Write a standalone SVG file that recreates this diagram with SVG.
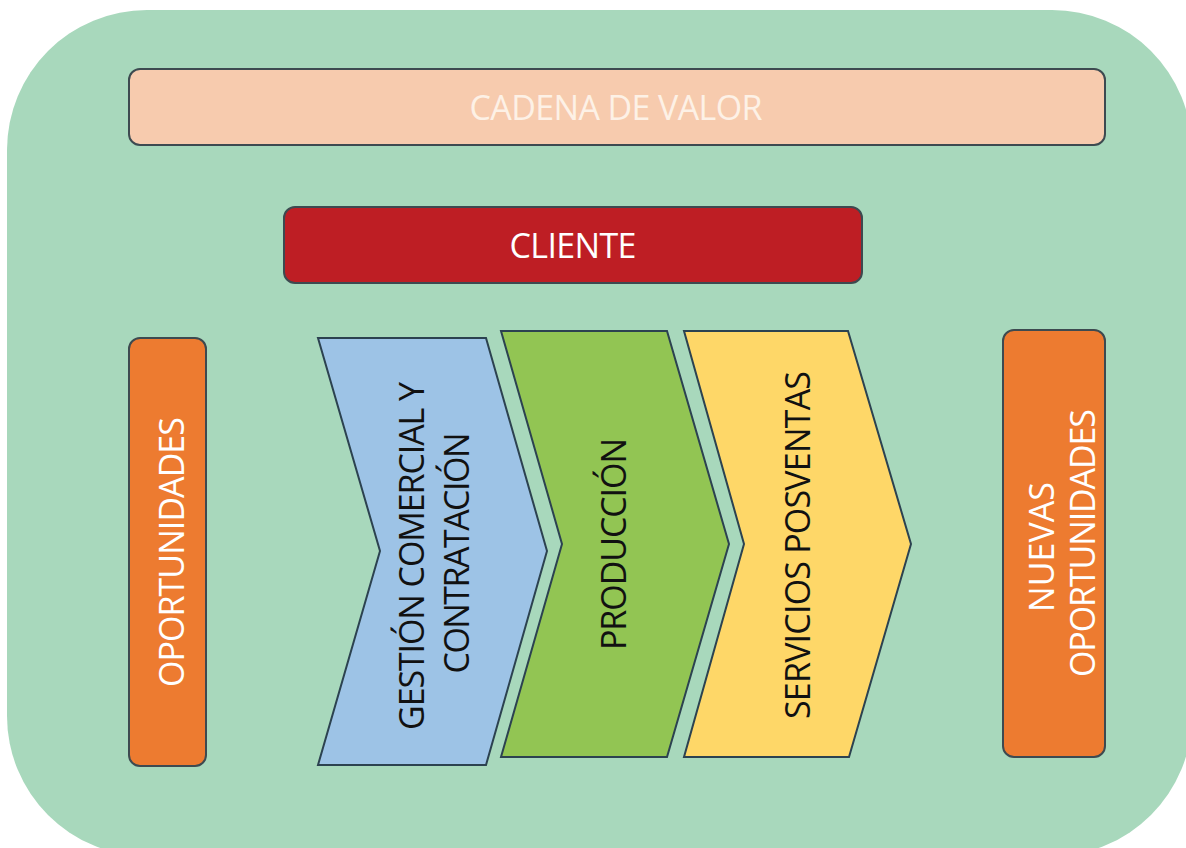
<svg xmlns="http://www.w3.org/2000/svg" width="1186" height="848" viewBox="0 0 1186 848">
<style>
.box{stroke:#3d4a50;stroke-width:2}
.chev{stroke:#2c4250;stroke-width:2;stroke-linejoin:miter}
.t{font-family:"Open Sans","Liberation Sans",sans-serif;font-size:34px}
.w{fill:#ffffff}
.k{fill:#111111}
</style>
<rect width="1186" height="848" fill="#ffffff"/>
<rect x="7" y="10" width="1185" height="846" rx="140" ry="140" fill="#a8d8bc"/>
<g id="cadena">
<rect class="box" x="129" y="69" width="976" height="76" rx="11" fill="#f7cbae"/>
<text class="t" x="616" y="120" text-anchor="middle" fill="#fdf1e6" textLength="293">CADENA DE VALOR</text>
</g>
<g id="cliente">
<rect class="box" x="284" y="207" width="578" height="76" rx="11" fill="#be1e24"/>
<text class="t w" x="573" y="258" text-anchor="middle" textLength="127">CLIENTE</text>
</g>
<g id="oportunidades">
<rect class="box" x="129" y="338" width="77" height="428" rx="11" fill="#ed7b30"/>
<text class="t w" transform="translate(184,552) rotate(-90)" text-anchor="middle" textLength="270">OPORTUNIDADES</text>
</g>
<g id="nuevas">
<rect class="box" x="1003" y="330" width="102" height="427" rx="11" fill="#ed7b30"/>
<text class="t w" transform="translate(1054,547) rotate(-90)" text-anchor="middle" textLength="130">NUEVAS</text>
<text class="t w" transform="translate(1095,543) rotate(-90)" text-anchor="middle" textLength="268">OPORTUNIDADES</text>
</g>
<g id="gestion">
<polygon class="chev" points="318,338 486,338 547,551 486,765 318,765 380,551" fill="#9dc3e6"/>
<text class="t k" transform="translate(424,556) rotate(-90)" text-anchor="middle" textLength="348">GESTIÓN COMERCIAL Y</text>
<text class="t k" transform="translate(469,553) rotate(-90)" text-anchor="middle" textLength="241">CONTRATACIÓN</text>
</g>
<g id="produccion">
<polygon class="chev" points="501,331 667,331 729,544 667,757 501,757 562,544" fill="#92c553"/>
<text class="t k" transform="translate(626,544) rotate(-90)" text-anchor="middle" textLength="212">PRODUCCIÓN</text>
</g>
<g id="servicios">
<polygon class="chev" points="684,331 848,331 911,544 849,757 684,757 744,544" fill="#fed768"/>
<text class="t k" transform="translate(810,545) rotate(-90)" text-anchor="middle" textLength="348">SERVICIOS POSVENTAS</text>
</g>
<g id="connectors"></g>
</svg>
